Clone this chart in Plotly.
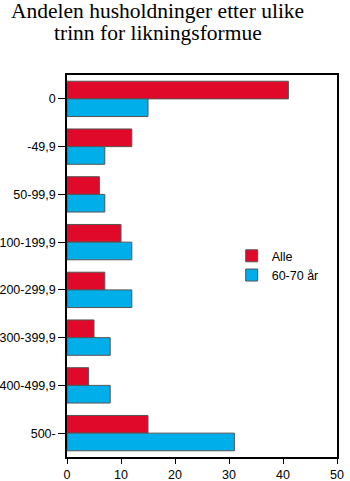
import plotly.graph_objects as go

categories = ["0", "-49,9", "50-99,9", "100-199,9", "200-299,9", "300-399,9", "400-499,9", "500-"]
alle = [41, 12, 6, 10, 7, 5, 4, 15]
aar_60_70 = [15, 7, 7, 12, 12, 8, 8, 31]
x_ticks = [0, 10, 20, 30, 40, 50]
title_lines = ["Andelen husholdninger etter ulike", "trinn for likningsformue"]

fig = go.Figure()
fig.add_trace(go.Bar(y=categories, x=alle, orientation="h", name="Alle",
                     marker=dict(color="#E0092A", line=dict(color="#555555", width=1))))
fig.add_trace(go.Bar(y=categories, x=aar_60_70, orientation="h", name="60-70 år",
                     marker=dict(color="#00AEEA", line=dict(color="#555555", width=1))))

title_font = dict(family="Liberation Serif, Times New Roman, serif", size=21.5, color="black")
for yy, line in zip([1.167, 1.109], title_lines):
    fig.add_annotation(text=line, xref="paper", yref="paper", x=0.337, y=yy,
                       xanchor="center", yanchor="middle", showarrow=False, font=title_font)

fig.update_layout(
    width=350, height=481,
    margin=dict(l=67, r=13, t=75, b=24, autoexpand=False),
    paper_bgcolor="white", plot_bgcolor="white",
    barmode="group", bargap=0.26, bargroupgap=0,
    font=dict(family="Liberation Sans, Arial, sans-serif", size=12.5, color="black"),
    showlegend=True,
    legend=dict(x=0.61, y=0.565, xanchor="left", yanchor="top", bgcolor="rgba(0,0,0,0)",
                font=dict(size=12.5), tracegroupgap=0, itemwidth=30),
)
fig.update_xaxes(range=[0, 50], tickvals=x_ticks, ticks="outside", ticklen=5, tickcolor="black",
                 showline=True, linecolor="black", linewidth=1.5, mirror=True, automargin=False,
                 showgrid=False, zeroline=False, fixedrange=True)
fig.update_yaxes(autorange="reversed", ticks="outside", ticklen=7, tickcolor="black",
                 showline=True, linecolor="black", linewidth=1.5, mirror=True, automargin=False,
                 showgrid=False, zeroline=False, fixedrange=True)

fig.write_html("out.html")
